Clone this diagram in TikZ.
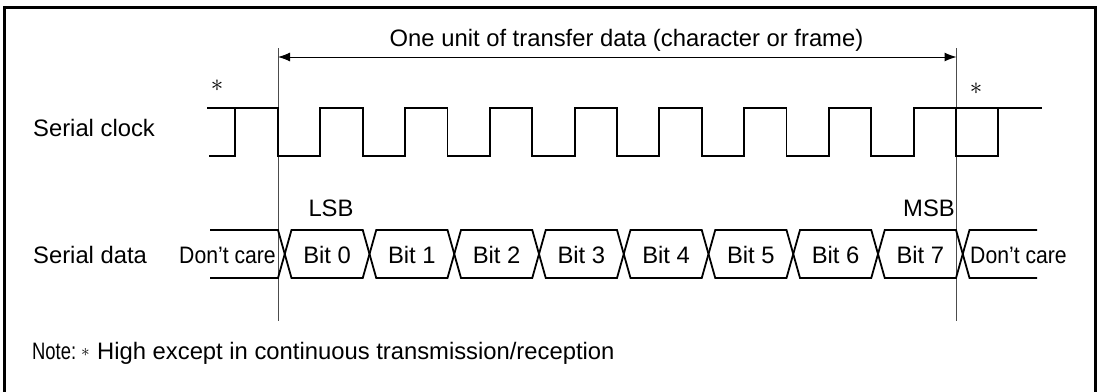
\documentclass[tikz,border=0pt]{standalone}
\usepackage{fontspec}
\setmainfont{Liberation Sans}
\usetikzlibrary{arrows.meta}
\begin{document}
\begin{tikzpicture}[x=1pt,y=-1pt,
  wave/.style={line width=1.8pt, line join=miter},
  guide/.style={line width=1pt, black!70},
  frame/.style={line width=3pt},
  dimarrow/.style={line width=1pt, {Latex[length=12pt,width=9pt]}-{Latex[length=12pt,width=9pt]}},
  lbl/.style={font=\fontsize{23.8}{28}\selectfont, inner sep=0pt},
  star/.style={font=\fontsize{23}{27}\selectfont, inner sep=0pt},
  smallstar/.style={font=\fontsize{16}{19}\selectfont, inner sep=0pt}]
\useasboundingbox (0,0) rectangle (1100,391);
% frame
\draw[frame] (4.5,393) -- (4.5,7) -- (1095.5,7) -- (1095.5,393);
% guide lines
\coordinate (gLt) at (278,48); \coordinate (gLb) at (278,321);
\coordinate (gRt) at (956.5,48); \coordinate (gRb) at (956.5,321);
\draw[guide] (gLt) -- (gLb);
\draw[guide] (gRt) -- (gRb);
\coordinate (aL) at (278,57); \coordinate (aR) at (956.5,57);
\draw[dimarrow] (aL) -- (aR);
\node[lbl] (title) at (626.5,40) {One unit of transfer data (character or frame)};
% asterisks
\node[star] (astL) at (217,86) {$\ast$};
\node[star] (astR) at (976,89) {$\ast$};
% labels
\node[lbl, anchor=base west] (clk) at (33,136) {Serial clock};
\node[lbl, anchor=base west] (dat) at (33,263) {Serial data};
% clock waveform
\draw[wave] (209,156) -- (235,156) -- (235,108);
\draw[wave] (207,108) -- (278,108) -- (278,156)
  \foreach \k in {0,...,6} { -- ({320.375+84.75*\k},156) -- ({320.375+84.75*\k},108)
     -- ({362.75+84.75*\k},108) -- ({362.75+84.75*\k},156) }
  -- (913.625,156) -- (913.625,108) -- (1042,108);
\draw[wave] (956,108) -- (956,156) -- (998.375,156) -- (998.375,108);
% data waveform
\draw[wave] (210,230) -- (278,230)
  \foreach \k in {0,2,4,6} { -- ({278+84.75*\k+13.5},278) -- ({278+84.75*(\k+1)},278)
     -- ({278+84.75*(\k+1)+13.5},230) -- ({278+84.75*(\k+2)},230) }
  -- (969.5,278) -- (1037,278);
\draw[wave] (210,278) -- (278,278)
  \foreach \k in {0,2,4,6} { -- ({278+84.75*\k+13.5},230) -- ({278+84.75*(\k+1)},230)
     -- ({278+84.75*(\k+1)+13.5},278) -- ({278+84.75*(\k+2)},278) }
  -- (969.5,230) -- (1037,230);
\foreach \k in {0,...,7}
  \node[lbl, anchor=base] (bit\k) at ({278+84.75*\k+49.1},263) {Bit \k};
\node[lbl, anchor=base] (dcL) at (227.5,263) {\scalebox{0.89}[1]{Don’t care}};
\node[lbl, anchor=base] (dcR) at (1018.5,263) {\scalebox{0.89}[1]{Don’t care}};
\node[lbl, anchor=base] (lsb) at (331,216) {LSB};
\node[lbl, anchor=base] (msb) at (929,216) {MSB};
% note
\node[lbl, anchor=base west] (note) at (32,359) {\resizebox{44pt}{\height}{Note:}};
\node[smallstar] (noteast) at (85.5,352) {$\ast$};
\node[lbl, anchor=base west] (notetxt) at (97,359) {High except in continuous transmission/reception};
\end{tikzpicture}
\end{document}
